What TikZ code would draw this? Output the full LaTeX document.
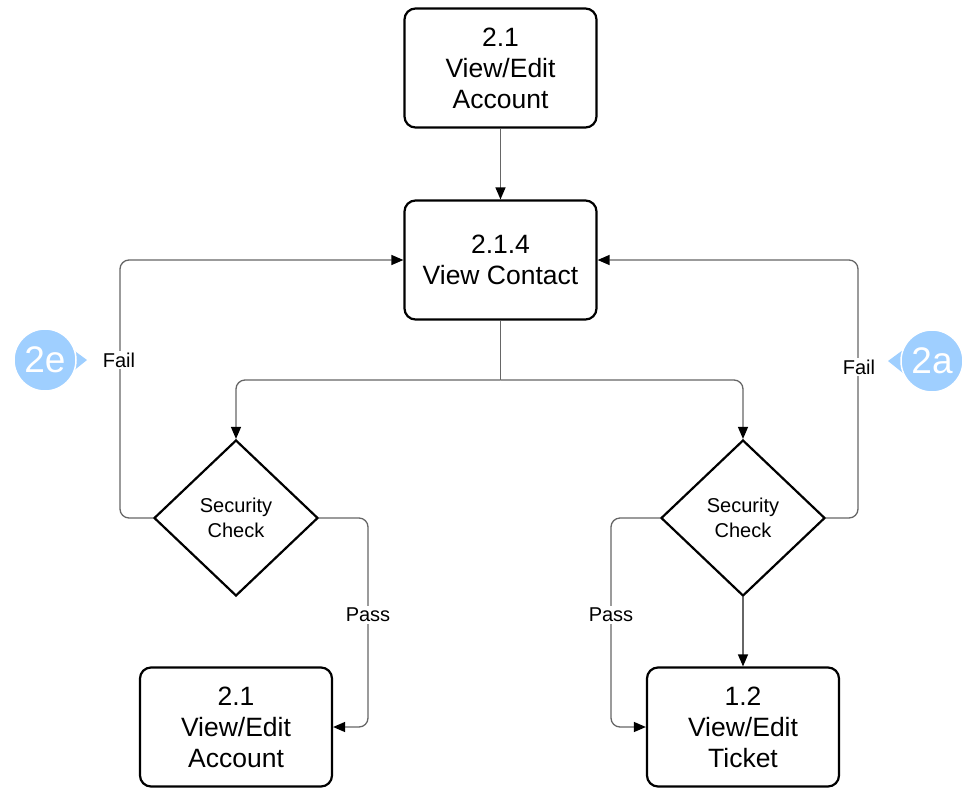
\documentclass[tikz,border=0pt]{standalone}
\usepackage{fontspec}
\setmainfont{Liberation Sans}
\usetikzlibrary{arrows.meta,shapes.geometric}
\definecolor{linegray}{HTML}{666666}
\definecolor{badgeblue}{HTML}{9FCFFF}
\begin{document}
\begin{tikzpicture}[x=1pt,y=-1pt,
  procbox/.style={draw=black,line width=2.2pt,rounded corners=11pt,minimum width=192pt,minimum height=119pt,align=center,font=\fontsize{26.5}{31}\selectfont,inner sep=0pt,fill=white},
  decide/.style={draw=black,line width=2.2pt,diamond,minimum width=164pt,minimum height=156pt,inner sep=0pt,align=center,font=\fontsize{20}{24.5}\selectfont,fill=white},
  conn/.style={draw=linegray,line width=1.3pt,rounded corners=9pt,-{Triangle[length=12pt,width=10pt,color=black]}},
  plain/.style={draw=linegray,line width=1.3pt,rounded corners=9pt},
  lbl/.style={fill=white,inner sep=2pt,font=\fontsize{20}{22}\selectfont},
  badge/.style={circle,fill=badgeblue,draw=white,line width=1.5pt,minimum size=62pt,inner sep=0pt,text=white,font=\fontsize{37}{38}\selectfont}
]
\useasboundingbox (0,0) rectangle (970,788);

\node[procbox] (acct) at (500.5,68) {2.1\\View/Edit\\Account};
\node[procbox] (contact) at (500.5,260) {2.1.4\\View Contact};
\node[decide] (dl) at (236,518) {Security\\Check};
\node[decide] (dr) at (743,518) {Security\\Check};
\node[procbox] (acct2) at (236,727) {2.1\\View/Edit\\Account};
\node[procbox] (ticket) at (743,727) {1.2\\View/Edit\\Ticket};

\coordinate (split) at (500.5,380);

\draw[conn] (acct.south) -- (contact.north);
\draw[plain] (contact.south) -- (split);
\draw[conn] (split) -| (dl.north);
\draw[conn] (split) -| (dr.north);

\draw[conn] (dl.west) -| (120,380) |- (contact.west);
\node[lbl] (failL) at (119,360) {Fail};
\draw[conn] (dr.east) -| (858,380) |- (contact.east);
\node[lbl] (failR) at (859,367) {Fail};

\draw[conn] (dl.east) -| (368,620) |- (acct2.east);
\node[lbl] (passL) at (368,615) {Pass};
\draw[conn] (dr.west) -| (611,620) |- (ticket.west);
\node[lbl] (passR) at (611,615) {Pass};
\draw[conn] (dr.south) -- (ticket.north);

% badges
\fill[badgeblue] (72,349) -- (87,360) -- (72,372) -- cycle;
\node[badge] (b2e) at (45,360) {2e};
\fill[badgeblue] (903,350) -- (888,361) -- (903,373) -- cycle;
\node[badge] (b2a) at (932,361) {2a};
\end{tikzpicture}
\end{document}
